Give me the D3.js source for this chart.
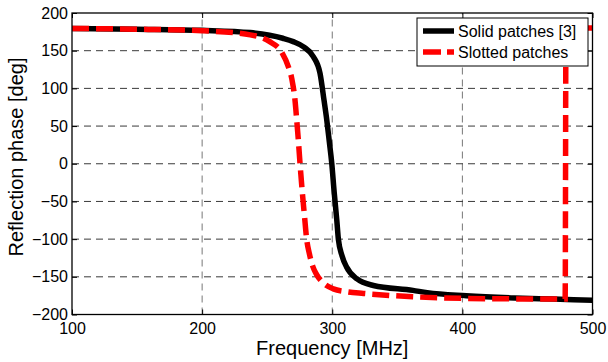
<!DOCTYPE html>
<html>
<head>
<meta charset="utf-8">
<script src="https://cdn.jsdelivr.net/npm/d3@7"></script>
<style>
  body { margin: 0; background: #fff; }
  text { font-family: "Liberation Sans", Arial, Helvetica, sans-serif; }
</style>
</head>
<body>
<div id="chart"></div>
<script>
// reflection phase vs frequency
const xTicks = [100, 200, 300, 400, 500];
const yTicks = [-200, -150, -100, -50, 0, 50, 100, 150, 200];
const seriesNames = ["Solid patches [3]", "Slotted patches"];

const solidFreq  = [100, 150, 200, 237, 262, 270, 278, 285.5, 290.6, 293.7, 295.8, 297.7, 299.6, 301.5, 303.5, 304.7, 307.5, 311, 318.8, 331.6, 362, 373, 403, 440, 470, 500];
const solidPhase = [179.5, 178.5, 177, 174, 166.5, 162, 155, 142, 120, 84, 58, 30, 1, -38, -75, -100, -122, -137, -152.5, -161.5, -168, -171, -175, -178, -179.5, -181];

const slotFreq  = [100, 150, 200, 237, 252, 261, 266.3, 269, 271.4, 272.7, 274, 275.2, 277, 278.8, 280.2, 282.5, 285, 288, 293, 300.8, 312, 324, 362, 420, 479, 479.6, 500];
const slotPhase = [179.5, 178.5, 176.5, 171, 162, 148.5, 128.5, 112, 84, 58, 30, 1, -38, -72, -98, -120, -136, -147, -158, -166, -170, -172, -176.5, -179, -179.5, 180, 180];

const width = 608, height = 362;
const margin = { top: 13, right: 15.5, bottom: 47.5, left: 72 };

const x = d3.scaleLinear()
    .domain([100, 500])
    .range([margin.left, width - margin.right]);

const y = d3.scaleLinear()
    .domain([-200, 200])
    .range([height - margin.bottom, margin.top]);

const svg = d3.select("#chart").append("svg")
    .attr("width", width)
    .attr("height", height);

svg.append("clipPath").attr("id", "plot")
  .append("rect")
    .attr("x", margin.left).attr("y", margin.top)
    .attr("width", x(500) - x(100)).attr("height", y(-200) - y(200));

// grid
svg.append("g")
  .selectAll("line")
  .data(xTicks.slice(1, -1))
  .join("line")
    .attr("x1", d => x(d)).attr("x2", d => x(d))
    .attr("y1", y(-200)).attr("y2", y(200))
    .attr("stroke", "#777")
    .attr("stroke-dasharray", "7,5");

svg.append("g")
  .selectAll("line")
  .data(yTicks.slice(1, -1))
  .join("line")
    .attr("x1", x(100)).attr("x2", x(500))
    .attr("y1", d => y(d)).attr("y2", d => y(d))
    .attr("stroke", "#3a3a3a")
    .attr("stroke-dasharray", "7,5");

// axes, matlab style ticks pointing inwards on all sides
const tick = 5;
svg.append("g")
    .attr("transform", `translate(0,${y(-200)})`)
    .call(d3.axisBottom(x).tickValues(xTicks).tickSize(-tick).tickPadding(8))
    .call(g => g.select(".domain").remove());
svg.append("g")
    .attr("transform", `translate(0,${y(200)})`)
    .call(d3.axisTop(x).tickValues(xTicks).tickSize(-tick).tickFormat(""))
    .call(g => g.select(".domain").remove());
svg.append("g")
    .attr("transform", `translate(${x(100)},0)`)
    .call(d3.axisLeft(y).tickValues(yTicks).tickSize(-tick).tickPadding(4))
    .call(g => g.select(".domain").remove());
svg.append("g")
    .attr("transform", `translate(${x(500)},0)`)
    .call(d3.axisRight(y).tickValues(yTicks).tickSize(-tick).tickFormat(""))
    .call(g => g.select(".domain").remove());

svg.selectAll(".tick text")
    .attr("font-size", 16)
    .attr("font-family", "Liberation Sans, Arial, sans-serif")
    .attr("fill", "#000");
svg.selectAll(".tick line").attr("stroke", "#000");

// curves
const line = d3.line()
    .x(d => x(d[0]))
    .y(d => y(d[1]))
    .curve(d3.curveMonotoneX);

const plot = svg.append("g").attr("clip-path", "url(#plot)");

plot.append("path")
    .datum(d3.zip(solidFreq, solidPhase))
    .attr("fill", "none")
    .attr("stroke", "#000")
    .attr("stroke-width", 5.5)
    .attr("d", line);

plot.append("path")
    .datum(d3.zip(slotFreq, slotPhase))
    .attr("fill", "none")
    .attr("stroke", "#ff0000")
    .attr("stroke-width", 5.5)
    .attr("stroke-dasharray", "17,7")
    .attr("d", line);

// frame
svg.append("rect")
    .attr("x", x(100)).attr("y", y(200))
    .attr("width", x(500) - x(100)).attr("height", y(-200) - y(200))
    .attr("fill", "none")
    .attr("stroke", "#000")
    .attr("stroke-width", 1.3);

// legend
const legend = svg.append("g").attr("transform", "translate(417,18)");
legend.append("rect")
    .attr("width", 171).attr("height", 48)
    .attr("fill", "#fff")
    .attr("stroke", "#000")
    .attr("stroke-width", 1);

const styles = [
  { color: "#000", dash: null },
  { color: "#ff0000", dash: "18,6" }
];
seriesNames.forEach((name, i) => {
  const yy = 13 + i * 21;
  legend.append("line")
      .attr("x1", 6).attr("x2", 37)
      .attr("y1", yy).attr("y2", yy)
      .attr("stroke", styles[i].color)
      .attr("stroke-width", 5.5)
      .attr("stroke-dasharray", styles[i].dash);
  legend.append("text")
      .attr("x", 41).attr("y", yy)
      .attr("dy", "0.36em")
      .attr("font-size", 16)
      .text(name);
});

// axis labels
svg.append("text")
    .attr("x", (x(100) + x(500)) / 2)
    .attr("y", 355)
    .attr("text-anchor", "middle")
    .attr("font-size", 20)
    .text("Frequency [MHz]");

svg.append("text")
    .attr("transform", "translate(22.5,157) rotate(-90)")
    .attr("text-anchor", "middle")
    .attr("font-size", 20)
    .text("Reflection phase [deg]");
</script>
</body>
</html>
